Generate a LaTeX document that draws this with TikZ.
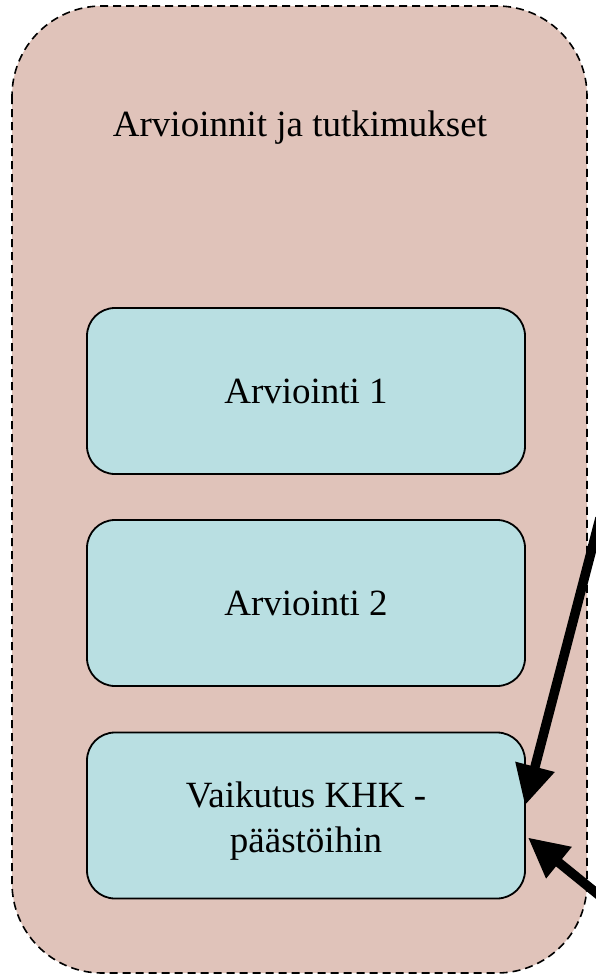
\documentclass[tikz,border=0pt]{standalone}
\usepackage{fontspec}
\setmainfont{Liberation Serif}
\usetikzlibrary{arrows.meta}
\definecolor{outerfill}{HTML}{E0C3BA}
\definecolor{innerfill}{HTML}{B9DFE2}
\begin{document}
\begin{tikzpicture}[x=1pt,y=1pt,
  boxtext/.style={align=center, inner sep=0pt, font=\fontsize{37}{45}\selectfont},
  innerbox/.style={draw=black, line width=1.8pt, fill=innerfill, rounded corners=28pt,
    minimum width=438pt, minimum height=166pt, boxtext},
  bigarrow/.style={line width=9.5pt, -{Triangle[length=40pt,width=38pt]}}]
\useasboundingbox (0,-977) rectangle (596,0);
\draw[fill=outerfill, line width=1.6pt, dash pattern=on 8pt off 5pt, rounded corners=90pt]
  (12,-6) rectangle (587,-973);
\node[boxtext] (title) at (300,-128) {Arvioinnit ja tutkimukset};
\node[innerbox] (a1) at (306,-391) {Arviointi 1};
\node[innerbox] (a2) at (306,-603) {Arviointi 2};
\node[innerbox] (v) at (306,-815.5) {};
\node[boxtext] (vt) at ([yshift=-6pt]v.center) {Vaikutus KHK -\\päästöihin};
\coordinate (s1) at (600,-518);
\coordinate (s2) at (600,-896);
\coordinate (t1) at ([xshift=-1pt,yshift=10pt]v.east);
\coordinate (t2) at ([xshift=2pt,yshift=-22pt]v.east);
\draw[bigarrow] (s1) -- (t1);
\draw[bigarrow] (s2) -- (t2);
\end{tikzpicture}
\end{document}
